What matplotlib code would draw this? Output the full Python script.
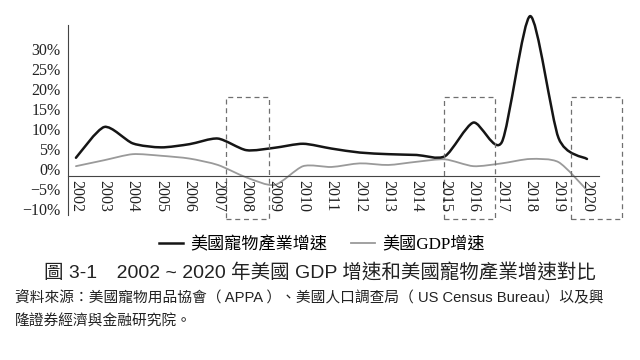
import numpy as np
import matplotlib
matplotlib.use('Agg')
import matplotlib.pyplot as plt
from matplotlib.path import Path
from matplotlib.patches import PathPatch, Rectangle
from matplotlib.lines import Line2D

years = list(range(2002, 2021))
pet = [2.9, 10.6, 6.5, 5.5, 6.3, 7.7, 4.8, 5.4, 6.4, 5.2, 4.2, 3.8, 3.6, 3.3,
       11.7, 6.8, 38.3, 7.8, 2.6]
gdp = [0.8, 2.3, 3.8, 3.4, 2.7, 1.1, -2.0, -3.9, 0.8, 0.6, 1.5, 1.1, 1.9, 2.5,
       0.8, 1.5, 2.6, 1.8, -5.2]
yticks = [-10, -5, 0, 5, 10, 15, 20, 25, 30]
boxes = [(2007.28, 2008.79), (2014.96, 2016.75), (2019.45, 2021.24)]

serif = 'Liberation Serif'
sans = ['Liberation Sans', 'Noto Sans CJK TC']


def smooth(xs, ys, k=1 / 8):
    # smoothed line as bezier segments
    p = np.column_stack([xs, ys]).astype(float)
    n = len(p)
    verts = [p[0]]
    codes = [Path.MOVETO]
    for i in range(n - 1):
        p0 = p[i - 1] if i > 0 else p[i]
        p3 = p[i + 2] if i + 2 < n else p[i + 1]
        c1 = p[i] + (p[i + 1] - p0) * k
        c2 = p[i + 1] - (p3 - p[i]) * k
        verts += [c1, c2, p[i + 1]]
        codes += [Path.CURVE4] * 3
    return Path(verts, codes)


fig = plt.figure(figsize=(6.4, 3.6), dpi=100)
ax = fig.add_axes([0.1058, 0.4028, 0.830, 0.528])
ax.set_xlim(2001.71, 2020.42)
ax.set_ylim(-11.4, 36.1)

ax.add_patch(PathPatch(smooth(years, gdp), fill=False, color='#9a9a9a', lw=1.3,
                       clip_on=False, capstyle='round'))
ax.add_patch(PathPatch(smooth(years, pet), fill=False, color='#151515', lw=1.8,
                       clip_on=False, capstyle='round', joinstyle='round'))

for x0, x1 in boxes:
    ax.add_patch(Rectangle((x0, -12.5), x1 - x0, 30.65, fill=False,
                           ls=(0, (4, 3)), lw=0.9, ec='#707070', clip_on=False))

for s in ['top', 'right']:
    ax.spines[s].set_visible(False)
ax.spines['left'].set_color('#444444')
ax.spines['left'].set_linewidth(0.8)
ax.spines['bottom'].set_position(('data', -1.6))
ax.spines['bottom'].set_color('#444444')
ax.spines['bottom'].set_linewidth(0.8)

ax.set_yticks(yticks)
ax.set_yticklabels([f'{v}%'.replace('-', '\u2212') for v in yticks],
                   fontfamily=serif, fontsize=11.5, color='#222222')
ax.set_xticks(years)
ax.set_xticklabels([str(y) for y in years], rotation=270, fontfamily=serif,
                   fontsize=11.5, color='#222222', va='top', ha='center')
ax.tick_params(axis='y', length=0, pad=5)
ax.tick_params(axis='x', length=0, pad=3)

handles = [Line2D([], [], color='#151515', lw=1.8),
           Line2D([], [], color='#9a9a9a', lw=1.3)]
fig.legend(handles, ['美國寵物產業增速', '美國GDP增速'], ncol=2,
           loc='center', bbox_to_anchor=(0.503, 0.319), frameon=False,
           handlelength=1.4, handletextpad=0.4, columnspacing=1.4,
           prop={'family': [serif, 'Noto Sans CJK TC'], 'size': 12.3})

fig.text(0.5, 0.245, '圖 3-1　2002 ~ 2020 年美國 GDP 增速和美國寵物產業增速對比',
         ha='center', va='center', fontsize=14, family=sans, color='#222222')
fig.text(0.023, 0.172, '資料來源：美國寵物用品協會（ APPA ）、美國人口調查局（ US Census Bureau）以及興',
         ha='left', va='center', fontsize=10.6, family=sans, color='#222222')
fig.text(0.023, 0.108, '隆證券經濟與金融研究院。', ha='left', va='center',
         fontsize=10.6, family=sans, color='#222222')

fig.savefig('out.png', dpi=100)
